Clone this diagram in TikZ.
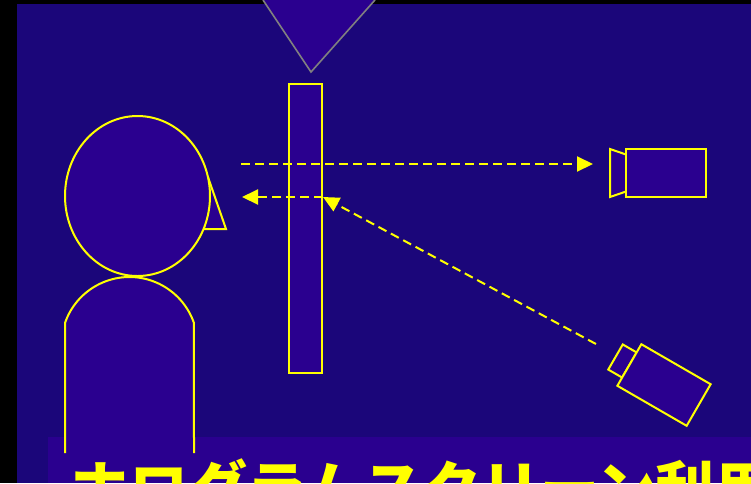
\documentclass[tikz,border=0pt]{standalone}
\usepackage{fontspec}
\usepackage{tikz}
\usetikzlibrary{arrows.meta,positioning}
\newfontfamily\cjk{Noto Sans CJK JP}
\definecolor{deepblue}{HTML}{1B067A}
\definecolor{panel}{HTML}{2A008F}
\definecolor{beam}{HTML}{FFFF00}
\definecolor{lamp}{HTML}{808080}

\begin{document}
\begin{tikzpicture}[
  x=1pt, y=-1pt,
  outline/.style={draw=beam, fill=panel, line width=2pt, line join=miter},
  ray/.style={draw=beam, line width=2pt, dash pattern=on 9pt off 5pt,
    -{Triangle[length=16pt,width=15pt]}},
  % #1 = half height of the lens front, #2 = half height where it meets the body
  pics/camera/.style n args={2}{code={
    \draw[outline] (-56,-#1) -- (-40,-#2) -- (-40,#2) -- (-56,#1) -- cycle;
    \draw[outline] (-40,-24) rectangle (40,24);
  }}
]
  \useasboundingbox (0,0) rectangle (751,483);
  \clip (0,0) rectangle (751,483);
  % backdrop
  \fill[black] (0,0) rectangle (751,483);
  \fill[deepblue] (17,4) rectangle (751,483);
  \fill[panel] (48,437) rectangle (751,483);

  % projector cone
  \fill[panel] (263,0) -- (311,72) -- (375,0) -- cycle;
  \draw[lamp, line width=1.6pt] (263,0) -- (311,72) -- (375,0);

  % viewer
  \draw[outline] (209,180) -- (226,229) -- (204,229) -- cycle;
  \draw[outline] (137.5,196) ellipse [x radius=72.5, y radius=80];
  \fill[panel] (65,453) -- (65,323) arc[start angle=199, end angle=341, radius=68.2]
    -- (194,453) -- cycle;
  \draw[outline, fill=none] (65,453) -- (65,323)
    arc[start angle=199, end angle=341, radius=68.2] -- (194,453);

  % hologram screen
  \draw[outline] (289,84) rectangle (322,373);

  % cameras
  \pic at (666,173) {camera={24}{18.5}};
  \pic[rotate=-30] at (664,385) {camera={14.5}{14.5}};

  \coordinate (eye) at (241,164);
  \coordinate (cam1) at (593,164);
  \coordinate (hit) at (323,197);
  \coordinate (view) at (242,197);
  \coordinate (cam2) at (596,344);

  \draw[ray] (eye) -- (cam1);
  \draw[ray] (cam2) -- (hit);
  \draw[ray] (hit) -- (view);

  \node[anchor=base west, inner sep=0, text=beam, font=\cjk\bfseries\fontsize{59}{60}\selectfont]
    (title) at (70,510) {ホログラムスクリーン利用};
\end{tikzpicture}
\end{document}
